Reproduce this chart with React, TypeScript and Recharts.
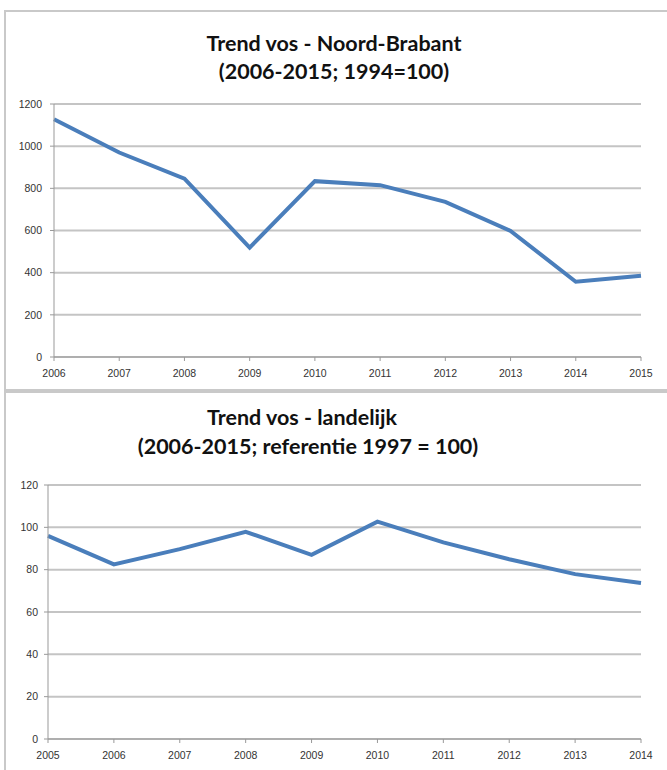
import React from 'react';
import { LineChart, Line, XAxis, YAxis, CartesianGrid } from 'recharts';

const brabantYears = ['2006', '2007', '2008', '2009', '2010', '2011', '2012', '2013', '2014', '2015'];
const brabantValues = [1128, 970, 846, 519, 834, 815, 736, 598, 357, 385];
const brabantTicks = [0, 200, 400, 600, 800, 1000, 1200];

const landYears = ['2005', '2006', '2007', '2008', '2009', '2010', '2011', '2012', '2013', '2014'];
const landValues = [96, 82.5, 89.7, 97.9, 87, 102.7, 92.9, 84.9, 77.9, 73.7];
const landTicks = [0, 20, 40, 60, 80, 100, 120];

const brabantData = brabantYears.map((year, i) => ({ year, value: brabantValues[i] }));
const landData = landYears.map((year, i) => ({ year, value: landValues[i] }));

const tickStyle = { fontFamily: 'Liberation Sans, Arial, sans-serif', fontSize: 10.5, fill: '#333' };
const titleStyle: React.CSSProperties = {
  position: 'absolute',
  fontFamily: 'Lato, Calibri, sans-serif',
  fontWeight: 700,
  fontSize: 21.5,
  color: '#111',
  whiteSpace: 'nowrap',
  transform: 'translate(-50%, -50%)',
  lineHeight: 1,
};

export default function App() {
  return (
    <div style={{ position: 'absolute', left: 0, top: 0, width: 667, height: 770, overflow: 'hidden', background: '#fff' }}>
      {/* frames */}
      <div style={{ position: 'absolute', left: 4, top: 10, width: 720, height: 381, border: '2px solid #c9c9c9', boxSizing: 'border-box' }} />
      <div style={{ position: 'absolute', left: 4, top: 390, width: 720, height: 420, border: '2px solid #c9c9c9', borderTopWidth: 3, boxSizing: 'border-box' }} />

      <div style={{ position: 'absolute', left: 0, top: 0 }}>
        <LineChart width={667} height={390} data={brabantData} margin={{ top: 104, right: 26, bottom: 3, left: 12 }}>
          <CartesianGrid vertical={false} stroke="#c4c4c4" strokeWidth={2} />
          <XAxis
            dataKey="year"
            height={30}
            tick={tickStyle}
            tickLine={{ stroke: '#999' }}
            axisLine={{ stroke: '#999' }}
            tickSize={4}
            tickMargin={9}
            interval={0}
          />
          <YAxis
            domain={[0, 1200]}
            ticks={brabantTicks}
            tick={tickStyle}
            tickLine={{ stroke: '#999' }}
            axisLine={{ stroke: '#999' }}
            tickSize={4}
            tickMargin={8}
            width={42}
            interval={0}
          />
          <Line type="linear" dataKey="value" stroke="#4A7EBB" strokeWidth={4} dot={false} isAnimationActive={false} />
        </LineChart>
      </div>
      <div style={{ ...titleStyle, left: 334, top: 44 }}>Trend vos - Noord-Brabant</div>
      <div style={{ ...titleStyle, left: 334, top: 72 }}>(2006-2015; 1994=100)</div>

      <div style={{ position: 'absolute', left: 0, top: 391 }}>
        <LineChart width={667} height={379} data={landData} margin={{ top: 94, right: 26, bottom: 1, left: 10 }}>
          <CartesianGrid vertical={false} stroke="#c4c4c4" strokeWidth={2} />
          <XAxis
            dataKey="year"
            height={30}
            tick={tickStyle}
            tickLine={{ stroke: '#999' }}
            axisLine={{ stroke: '#999' }}
            tickSize={4}
            tickMargin={9}
            interval={0}
          />
          <YAxis
            domain={[0, 120]}
            ticks={landTicks}
            tick={tickStyle}
            tickLine={{ stroke: '#999' }}
            axisLine={{ stroke: '#999' }}
            tickSize={4}
            tickMargin={6}
            width={38}
            interval={0}
          />
          <Line type="linear" dataKey="value" stroke="#4A7EBB" strokeWidth={4} dot={false} isAnimationActive={false} />
        </LineChart>
      </div>
      <div style={{ ...titleStyle, left: 302, top: 418 }}>Trend vos - landelijk</div>
      <div style={{ ...titleStyle, left: 308, top: 447 }}>(2006-2015; referentie 1997 = 100)</div>
    </div>
  );
}
